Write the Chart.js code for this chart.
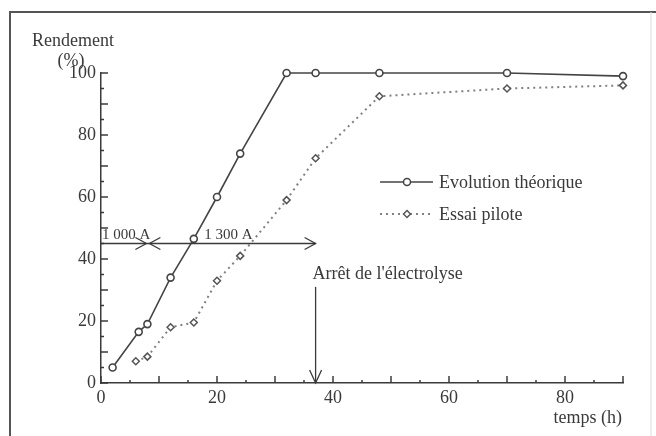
<!DOCTYPE html>
<html>
<head>
<meta charset="utf-8">
<script src="https://cdn.jsdelivr.net/npm/chart.js@4"></script>
<style>
  body { margin: 0; background: #fff; }
  #wrap { width: 656px; height: 436px; }
</style>
</head>
<body>
<div id="wrap"><canvas id="myChart"></canvas></div>
<script>
// valeurs
const tempsTheo = [2, 6.5, 8, 12, 16, 20, 24, 32, 37, 48, 70, 90];
const rendTheo = [5, 16.5, 19, 34, 46.5, 60, 74, 100, 100, 100, 100, 99];
const tempsPilote = [6, 8, 12, 16, 20, 24, 32, 37, 48, 70, 90];
const rendPilote = [7, 8.5, 18, 19.5, 33, 41, 59, 72.5, 92.5, 95, 96];
const xTicks = [0, 20, 40, 60, 80];
const yTicks = [0, 20, 40, 60, 80, 100];
const seriesNames = ['Evolution théorique', 'Essai pilote'];
const phases = [0, 8, 37];            // 1 000 A puis 1 300 A
const phaseLabels = ['1 000 A', '1 300 A'];
const phaseLevel = 45;
const arretTemps = 37;
const arretLabel = "Arrêt de l'électrolyse";

const serif = "'Liberation Serif', 'Times New Roman', serif";
const ink = '#3a3a3a';

function toXY(xs, ys) {
  return xs.map((x, i) => ({ x: x, y: ys[i] }));
}

function arrowHead(c, x, y, dir) {
  // dir: 'right', 'left', 'down'
  c.beginPath();
  if (dir === 'right') {
    c.moveTo(x - 11, y - 6); c.lineTo(x, y); c.lineTo(x - 11, y + 6);
  } else if (dir === 'left') {
    c.moveTo(x + 11, y - 6); c.lineTo(x, y); c.lineTo(x + 11, y + 6);
  } else {
    c.moveTo(x - 6, y - 13); c.lineTo(x, y); c.lineTo(x + 6, y - 13);
  }
  c.stroke();
}

const decor = {
  id: 'decor',
  beforeDraw(chart) {
    const c = chart.ctx;
    c.save();
    c.fillStyle = '#fff';
    c.fillRect(0, 0, chart.width, chart.height);
    c.strokeStyle = '#555';
    c.lineWidth = 2;
    c.beginPath();
    c.moveTo(10, 436); c.lineTo(10, 12); c.lineTo(656, 12);
    c.stroke();
    c.strokeStyle = '#ddd';
    c.lineWidth = 1;
    c.beginPath();
    c.moveTo(651, 12); c.lineTo(651, 436);
    c.stroke();
    c.restore();
  },
  afterDatasetsDraw(chart) {
    const c = chart.ctx;
    const xs = chart.scales.x, ys = chart.scales.y;
    const a = chart.chartArea;
    c.save();
    c.strokeStyle = ink;
    c.lineWidth = 1.5;
    // graduations intérieures
    for (let v = 0; v <= 90; v += 5) {
      const px = xs.getPixelForValue(v);
      const len = v % 10 === 0 ? 7 : 3;
      c.beginPath(); c.moveTo(px, a.bottom); c.lineTo(px, a.bottom - len); c.stroke();
    }
    for (let v = 0; v <= 100; v += 5) {
      const py = ys.getPixelForValue(v);
      const len = v % 10 === 0 ? 7 : 3;
      c.beginPath(); c.moveTo(a.left, py); c.lineTo(a.left + len, py); c.stroke();
    }

    // flèches d'intensité
    const yl = ys.getPixelForValue(phaseLevel);
    const p0 = xs.getPixelForValue(phases[0]);
    const p1 = xs.getPixelForValue(phases[1]);
    const p2 = xs.getPixelForValue(phases[2]);
    c.lineWidth = 1.3;
    c.beginPath(); c.moveTo(p0, yl); c.lineTo(p2, yl); c.stroke();
    arrowHead(c, p1 - 1, yl, 'right');
    arrowHead(c, p1 + 2, yl, 'left');
    arrowHead(c, p2, yl, 'right');
    c.fillStyle = ink;
    c.font = '15px ' + serif;
    c.textBaseline = 'alphabetic';
    c.textAlign = 'left';
    c.fillText(phaseLabels[0], p0 + 1, yl - 5);
    c.fillText(phaseLabels[1], xs.getPixelForValue(17.8), yl - 5);

    // arrêt de l'électrolyse
    const xa = xs.getPixelForValue(arretTemps);
    c.beginPath(); c.moveTo(xa, ys.getPixelForValue(31)); c.lineTo(xa, a.bottom); c.stroke();
    arrowHead(c, xa, a.bottom, 'down');
    c.font = '18px ' + serif;
    c.fillText(arretLabel, xa - 3, ys.getPixelForValue(33.5));

    // titres des axes
    c.textAlign = 'center';
    c.fillText('Rendement', 73, 46);
    c.fillText('(%)', 71, 66);
    c.textAlign = 'right';
    c.fillText('temps (h)', 622, 423);

    // légende
    const items = chart.data.datasets;
    const rows = [182, 214];
    items.forEach((ds, i) => {
      const y = rows[i];
      c.strokeStyle = ds.borderColor;
      c.lineWidth = ds.borderWidth;
      c.setLineDash(ds.borderDash || []);
      c.beginPath(); c.moveTo(380, y); c.lineTo(433, y); c.stroke();
      c.setLineDash([]);
      c.lineWidth = 1.5;
      c.strokeStyle = ds.pointBorderColor;
      c.fillStyle = '#fff';
      Chart.helpers.drawPoint(c, { pointStyle: ds.pointStyle, radius: ds.pointRadius, borderWidth: 1.5 }, 407, y);
      c.fillStyle = ink;
      c.textAlign = 'left';
      c.fillText(ds.label, 439, y + 6);
    });
    c.restore();
  }
};

const ctx = document.getElementById('myChart');
const chart = new Chart(ctx, {
  type: 'line',
  data: {
    datasets: [{
      label: seriesNames[0],
      data: toXY(tempsTheo, rendTheo),
      borderColor: '#444',
      borderWidth: 1.6,
      pointStyle: 'circle',
      pointRadius: 3.5,
      pointBorderWidth: 1.6,
      pointBorderColor: '#444',
      pointBackgroundColor: '#fff',
      tension: 0,
      clip: false
    }, {
      label: seriesNames[1],
      data: toXY(tempsPilote, rendPilote),
      borderColor: '#808080',
      borderWidth: 2,
      borderDash: [2, 4],
      pointStyle: 'rectRot',
      pointRadius: 3.5,
      pointBorderWidth: 1.5,
      pointBorderColor: '#555',
      pointBackgroundColor: '#fff',
      tension: 0,
      clip: false
    }]
  },
  options: {
    responsive: true,
    maintainAspectRatio: false,
    animation: false,
    events: [],
    layout: { padding: { left: 0, top: 73, right: 33, bottom: 0 } },
    plugins: {
      legend: { display: false },
      tooltip: { enabled: false }
    },
    scales: {
      x: {
        type: 'linear',
        min: 0,
        max: 90,
        afterBuildTicks: s => { s.ticks = xTicks.map(v => ({ value: v })); },
        afterFit: s => { s.height = 53; },
        border: { display: true, color: ink, width: 1.5 },
        grid: { drawOnChartArea: false, drawTicks: false },
        ticks: { font: { family: serif, size: 18 }, color: ink, padding: 4, maxRotation: 0 }
      },
      y: {
        min: 0,
        max: 100,
        afterBuildTicks: s => { s.ticks = yTicks.map(v => ({ value: v })); },
        afterFit: s => { s.width = 101; },
        border: { display: true, color: ink, width: 1.5 },
        grid: { drawOnChartArea: false, drawTicks: false },
        ticks: { font: { family: serif, size: 18 }, color: ink, padding: 5 }
      }
    }
  },
  plugins: [decor]
});
</script>
</body>
</html>
